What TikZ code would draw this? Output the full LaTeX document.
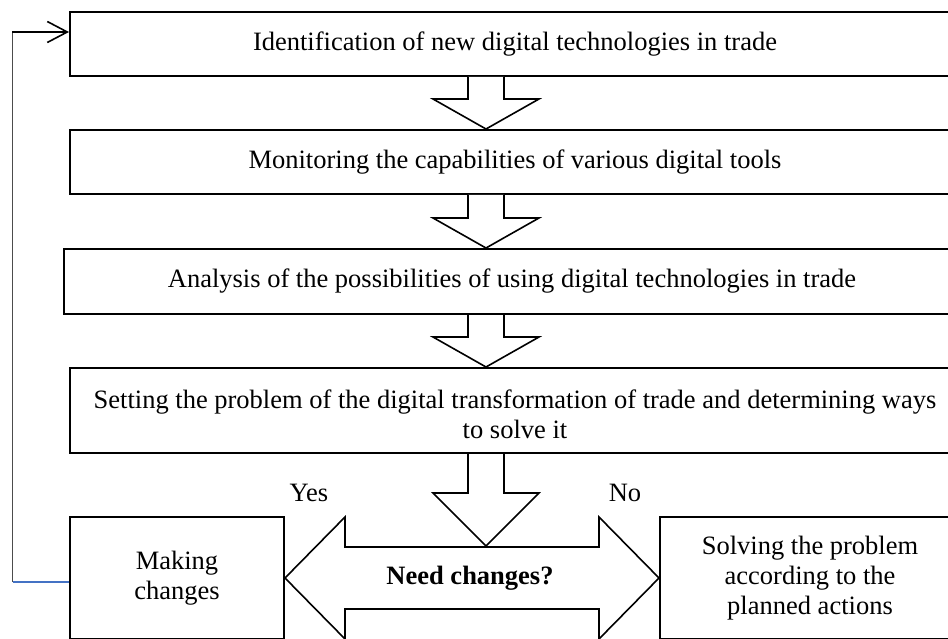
\documentclass[tikz,border=0pt]{standalone}
\usepackage{fontspec}
\setmainfont{Liberation Serif}
\usetikzlibrary{arrows.meta,calc}
\newcommand\blockdown[3]{%
  \draw[barrow] let \p1=(#1),\p2=(#2) in
    (\x1-18pt,\y1) -- (\x1-18pt,\y2+#3) -- (\x1-53pt,\y2+#3) -- (\x2,\y2)
    -- (\x1+53pt,\y2+#3) -- (\x1+18pt,\y2+#3) -- (\x1+18pt,\y1);}
\begin{document}
\begin{tikzpicture}[x=1pt,y=-1pt,
  box/.style={draw,line width=2pt,rectangle,inner sep=0pt,anchor=north west},
  txt/.style={inner sep=0pt,align=center,font=\fontsize{26.5}{30}\selectfont},
  barrow/.style={draw,line width=1.6pt,fill=white,line join=miter}]
\useasboundingbox (0,0) rectangle (948,639);
\clip (0,0) rectangle (948,639);
% boxes
\node[box,minimum width=890pt,minimum height=64pt] (b1) at (69,11) {};
\node[box,minimum width=890pt,minimum height=64pt] (b2) at (69,129) {};
\node[box,minimum width=896pt,minimum height=65pt] (b3) at (63,248) {};
\node[box,minimum width=890pt,minimum height=85pt] (b4) at (69,367) {};
\node[box,minimum width=214pt,minimum height=122pt] (bm) at (69,516) {};
\node[box,minimum width=300pt,minimum height=122pt] (bs) at (659,516) {};
% texts
\node[txt] (t1) at (b1.center) {Identification of new digital technologies in trade};
\node[txt] (t2) at (b2.center) {Monitoring the capabilities of various digital tools};
\node[txt] (t3) at (b3.center) {Analysis of the possibilities of using digital technologies in trade};
\node[txt] (t4) at ($(b4.center)+(0,4)$) {Setting the problem of the digital transformation of trade and determining ways\\to solve it};
\node[txt] (tm) at (bm.center) {Making\\changes};
\node[txt] (ts) at (bs.center) {Solving the problem\\according to the\\planned actions};
\node[txt] (yes) at (309,493) {Yes};
\node[txt] (no) at (625,493) {No};
% block arrows
\coordinate (ax) at (486,0);
\blockdown{ax |- b1.south}{ax |- b2.north}{30pt}
\blockdown{ax |- b2.south}{ax |- b3.north}{30pt}
\blockdown{ax |- b3.south}{ax |- b4.north}{30pt}
\coordinate (dtop) at (486,546);
\blockdown{ax |- b4.south}{dtop}{53pt}
\draw[barrow] let \p1=(bm.east),\p2=(bs.west) in
  (\x1,\y1) -- (\x1+60pt,\y1+61pt) -- (\x1+60pt,\y1+31pt) -- (\x2-60pt,\y1+31pt)
  -- (\x2-60pt,\y1+61pt) -- (\x2,\y1) -- (\x2-60pt,\y1-61pt) -- (\x2-60pt,\y1-31pt)
  -- (\x1+60pt,\y1-31pt) -- (\x1+60pt,\y1-61pt) -- cycle;
\node[txt,font=\fontsize{26.5}{30}\selectfont\bfseries] (need) at (470,578) {Need changes?};
% feedback
\coordinate (fbot) at (12,582);
\coordinate (ftop) at (12,32);
\draw[line width=1pt,black!70] (fbot) -- (ftop);
\draw[line width=1.6pt,-{Straight Barb[length=20pt,width=21pt,line width=1.6pt]}] (ftop) -- (b1.west |- ftop);
\draw[line width=2.2pt,color={rgb,255:red,68;green,114;blue,196}] (13,582) -- (bm.west |- fbot);
\end{tikzpicture}
\end{document}
